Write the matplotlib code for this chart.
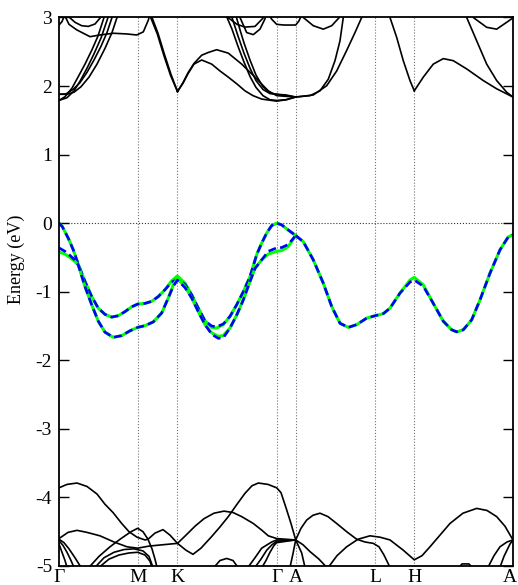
import matplotlib.pyplot as plt
import matplotlib.transforms as mtransforms
import numpy as np

plt.rcParams['font.family'] = ['Liberation Serif', 'DejaVu Serif']
plt.rcParams['axes.unicode_minus'] = False

# high-symmetry points along the k path
kpoints = [0.0, 0.787, 1.185, 2.177, 2.367, 3.162, 3.553, 4.54]
klabels = ['Γ', 'M', 'K', 'Γ', 'A', 'L', 'H', 'A']

# top valence bands, Γ-M-K-Γ-A (green = solid, blue = dashed)
k_v1 = [0.0, 0.033, 0.093, 0.143, 0.193, 0.26, 0.327, 0.393, 0.46, 0.527, 0.593, 0.66, 0.727,
        0.787, 0.86, 0.927, 0.993, 1.06, 1.127, 1.185, 1.26, 1.327, 1.393, 1.46, 1.527, 1.577,
        1.643, 1.71, 1.777, 1.843, 1.91, 1.977, 2.027, 2.077, 2.127, 2.177, 2.227, 2.293, 2.367]
v1_green = [0.0, -0.05, -0.22, -0.39, -0.60, -0.85, -1.07, -1.24, -1.33, -1.37, -1.35, -1.29, -1.22,
            -1.18, -1.17, -1.14, -1.07, -0.97, -0.84, -0.77, -0.875, -1.045, -1.24, -1.425, -1.52, -1.53,
            -1.48, -1.36, -1.19, -1.0, -0.78, -0.46, -0.29, -0.145, -0.035, 0.0, -0.025, -0.10, -0.18]
v1_blue = [0.0, -0.05, -0.22, -0.39, -0.60, -0.85, -1.07, -1.24, -1.33, -1.37, -1.35, -1.29, -1.22,
           -1.18, -1.17, -1.14, -1.07, -0.97, -0.86, -0.82, -0.89, -1.045, -1.24, -1.425, -1.50, -1.51,
           -1.47, -1.36, -1.19, -1.0, -0.78, -0.46, -0.29, -0.145, -0.035, 0.0, -0.025, -0.10, -0.18]

k_v2 = [0.0, 0.06, 0.11, 0.16, 0.193, 0.26, 0.327, 0.393, 0.46, 0.543, 0.627, 0.71, 0.787, 0.86,
        0.943, 1.027, 1.093, 1.143, 1.185, 1.26, 1.327, 1.393, 1.46, 1.527, 1.593, 1.643, 1.71,
        1.777, 1.843, 1.91, 1.96, 2.027, 2.093, 2.177, 2.227, 2.293, 2.367]
v2_green = [-0.42, -0.45, -0.50, -0.56, -0.61, -0.925, -1.19, -1.43, -1.59, -1.665, -1.64, -1.57, -1.52,
            -1.495, -1.44, -1.31, -1.09, -0.90, -0.81, -0.925, -1.09, -1.29, -1.48, -1.60, -1.65, -1.64,
            -1.53, -1.34, -1.12, -0.85, -0.66, -0.535, -0.45, -0.41, -0.40, -0.34, -0.18]
v2_blue = [-0.36, -0.41, -0.47, -0.54, -0.61, -0.925, -1.19, -1.43, -1.59, -1.665, -1.64, -1.57, -1.52,
           -1.495, -1.44, -1.31, -1.09, -0.92, -0.83, -0.94, -1.09, -1.29, -1.48, -1.62, -1.68, -1.67,
           -1.53, -1.34, -1.12, -0.85, -0.66, -0.535, -0.41, -0.36, -0.355, -0.31, -0.18]

# degenerate top valence band, A-L-H-A
k_vd = [2.367, 2.443, 2.543, 2.643, 2.727, 2.81, 2.893, 2.977, 3.077, 3.162, 3.243, 3.31, 3.41,
        3.51, 3.553, 3.643, 3.743, 3.843, 3.927, 3.977, 4.043, 4.127, 4.21, 4.31, 4.41, 4.493, 4.54]
vd_green = [-0.18, -0.27, -0.535, -0.875, -1.215, -1.46, -1.52, -1.48, -1.385, -1.35, -1.32, -1.24, -1.02,
            -0.83, -0.79, -0.90, -1.17, -1.43, -1.555, -1.585, -1.555, -1.41, -1.12, -0.73, -0.39, -0.20, -0.17]
vd_blue = [-0.18, -0.27, -0.535, -0.875, -1.215, -1.46, -1.52, -1.48, -1.385, -1.35, -1.32, -1.24, -1.02,
           -0.86, -0.83, -0.92, -1.17, -1.43, -1.555, -1.585, -1.555, -1.41, -1.12, -0.73, -0.39, -0.20, -0.17]

# conduction bands (k, E)
cb_hook = [(0.0, 2.89), (0.03, 2.94), (0.06, 3.05)]
cb_u_shallow = [(0.09, 3.02), (0.16, 2.93), (0.227, 2.88), (0.293, 2.87), (0.36, 2.905), (0.427, 3.02)]
cb_u_flat = [(0.05, 3.05), (0.10, 2.9), (0.177, 2.82), (0.31, 2.72), (0.41, 2.745), (0.543, 2.77),
             (0.677, 2.76), (0.777, 2.745), (0.843, 2.79), (0.893, 2.96), (0.91, 3.05)]
cb_r1 = [(0.0, 1.79), (0.06, 1.845), (0.13, 1.97), (0.19, 2.13), (0.26, 2.32), (0.33, 2.53),
         (0.39, 2.73), (0.45, 3.0), (0.47, 3.08)]
cb_r2 = [(0.0, 1.79), (0.08, 1.83), (0.15, 1.93), (0.21, 2.07), (0.28, 2.26), (0.35, 2.47),
         (0.42, 2.70), (0.49, 3.0), (0.51, 3.08)]
cb_r3 = [(0.0, 1.88), (0.07, 1.885), (0.14, 1.95), (0.21, 2.05), (0.28, 2.20), (0.35, 2.38),
         (0.42, 2.58), (0.48, 2.78), (0.53, 3.0), (0.55, 3.08)]
cb_r4 = [(0.0, 1.88), (0.08, 1.88), (0.15, 1.91), (0.22, 1.99), (0.30, 2.13), (0.38, 2.32),
         (0.46, 2.55), (0.53, 2.78), (0.58, 3.0), (0.60, 3.08)]
cb_mk1 = [(0.905, 3.06), (0.917, 3.0), (0.983, 2.76), (1.05, 2.44), (1.117, 2.15), (1.185, 1.92)]
cb_mk2 = [(0.915, 3.06), (0.93, 3.0), (0.99, 2.77), (1.055, 2.46), (1.12, 2.17), (1.185, 1.92)]
cb_hump1 = [(1.185, 1.92), (1.24, 2.04), (1.29, 2.18), (1.35, 2.32), (1.427, 2.38), (1.527, 2.32),
            (1.61, 2.22), (1.693, 2.13), (1.78, 2.03), (1.86, 1.93), (1.94, 1.86), (2.027, 1.81),
            (2.177, 1.78), (2.27, 1.80), (2.367, 1.84)]
cb_hump2 = [(1.185, 1.92), (1.24, 2.05), (1.293, 2.20), (1.35, 2.33), (1.427, 2.45), (1.493, 2.49),
            (1.577, 2.53), (1.693, 2.48), (1.827, 2.32), (1.96, 2.13), (2.093, 1.93), (2.177, 1.86),
            (2.27, 1.85), (2.367, 1.84)]
cb_l1 = [(1.76, 3.08), (1.775, 3.0), (1.81, 2.82), (1.85, 2.63), (1.91, 2.38), (1.97, 2.16),
         (2.04, 1.99), (2.11, 1.90), (2.177, 1.88), (2.27, 1.87), (2.367, 1.84)]
cb_l2 = [(1.71, 3.08), (1.73, 3.0), (1.79, 2.73), (1.85, 2.48), (1.91, 2.26), (1.97, 2.08),
         (2.04, 1.95), (2.11, 1.89), (2.177, 1.88), (2.27, 1.86), (2.367, 1.84)]
cb_l3 = [(1.66, 3.08), (1.68, 3.0), (1.73, 2.83), (1.79, 2.58), (1.85, 2.35), (1.91, 2.14),
         (1.97, 1.98), (2.04, 1.86), (2.11, 1.80), (2.177, 1.79), (2.27, 1.80), (2.367, 1.84)]
cb_u1_g2 = [(1.67, 3.05), (1.69, 3.0), (1.78, 2.90), (1.86, 2.86), (1.96, 2.87), (2.04, 2.99), (2.05, 3.05)]
cb_u2_g2 = [(1.79, 3.05), (1.81, 3.0), (1.877, 2.78), (1.943, 2.75), (2.01, 2.83), (2.06, 2.98), (2.07, 3.05)]
cb_flat_ga = [(2.09, 3.05), (2.13, 2.97), (2.177, 2.90), (2.25, 2.89), (2.367, 2.89), (2.40, 2.95), (2.43, 3.05)]
cb_al1 = [(2.367, 1.84), (2.51, 1.86), (2.61, 1.93), (2.693, 2.10), (2.76, 2.37), (2.81, 2.66),
          (2.843, 3.0), (2.85, 3.06)]
cb_al2 = [(2.367, 1.84), (2.543, 1.87), (2.677, 2.005), (2.777, 2.22), (2.877, 2.52), (2.96, 2.78),
          (3.027, 3.0), (3.04, 3.06)]
cb_u_al = [(2.43, 3.05), (2.443, 3.0), (2.543, 2.88), (2.643, 2.83), (2.727, 2.88), (2.803, 3.0), (2.815, 3.05)]
cb_h_steep = [(3.30, 3.05), (3.31, 3.0), (3.377, 2.71), (3.443, 2.37), (3.51, 2.08), (3.553, 1.93)]
cb_h_hump = [(3.553, 1.93), (3.643, 2.13), (3.743, 2.32), (3.843, 2.40), (3.943, 2.37), (4.077, 2.25),
             (4.243, 2.08), (4.377, 1.96), (4.54, 1.84)]
cb_a_steep = [(4.07, 3.05), (4.077, 3.0), (4.177, 2.66), (4.277, 2.32), (4.377, 2.08), (4.477, 1.91), (4.54, 1.84)]
cb_u_ha = [(4.13, 3.05), (4.143, 3.0), (4.277, 2.857), (4.377, 2.83), (4.477, 2.93), (4.537, 2.99)]

# lower valence bands (k, E)
db_a = [(0.0, -3.86), (0.08, -3.81), (0.18, -3.79), (0.28, -3.84), (0.38, -3.95), (0.46, -4.10),
        (0.54, -4.22), (0.627, -4.38), (0.70, -4.50), (0.78, -4.58), (0.86, -4.62), (0.89, -4.61),
        (0.96, -4.52), (1.04, -4.47), (1.11, -4.55), (1.185, -4.67), (1.27, -4.77), (1.34, -4.83),
        (1.42, -4.74), (1.527, -4.57), (1.61, -4.43), (1.693, -4.28), (1.78, -4.10), (1.86, -3.94),
        (1.93, -3.83), (1.993, -3.79), (2.09, -3.81), (2.177, -3.86), (2.22, -3.93), (2.27, -4.15),
        (2.32, -4.38), (2.367, -4.62), (2.427, -4.81), (2.46, -5.02)]
db_b = [(0.0, -4.60), (0.09, -4.51), (0.18, -4.48), (0.28, -4.51), (0.41, -4.56), (0.55, -4.65),
        (0.68, -4.72), (0.787, -4.74), (0.90, -4.71), (1.04, -4.69), (1.185, -4.67), (1.27, -4.55),
        (1.36, -4.42), (1.45, -4.31), (1.55, -4.23), (1.65, -4.20), (1.74, -4.22), (1.827, -4.28),
        (1.943, -4.38), (2.03, -4.48), (2.093, -4.56), (2.177, -4.60), (2.27, -4.61), (2.367, -4.62)]
db_c = [(0.30, -5.02), (0.40, -4.86), (0.51, -4.72), (0.62, -4.60), (0.72, -4.50), (0.787, -4.45),
        (0.84, -4.50), (0.89, -4.61), (0.93, -4.75), (0.96, -4.90), (0.98, -5.02)]
db_m1 = [(0.36, -5.02), (0.45, -4.88), (0.55, -4.80), (0.65, -4.76), (0.75, -4.75), (0.84, -4.78),
         (0.90, -4.86), (0.94, -5.02)]
db_m2 = [(0.40, -5.02), (0.50, -4.90), (0.60, -4.84), (0.70, -4.81), (0.787, -4.80), (0.86, -4.84),
         (0.91, -4.93), (0.93, -5.02)]
db_g1 = [(0.0, -4.61), (0.05, -4.66), (0.10, -4.75), (0.16, -4.88), (0.22, -5.02)]
db_g2 = [(0.0, -4.63), (0.04, -4.70), (0.08, -4.80), (0.12, -4.92), (0.15, -5.02)]
db_g3 = [(0.0, -4.68), (0.03, -4.80), (0.06, -4.92), (0.08, -5.02)]
db_bump = [(1.55, -5.02), (1.61, -4.92), (1.677, -4.89), (1.74, -4.92), (1.79, -5.02)]
db_n1 = [(1.89, -5.02), (1.96, -4.88), (2.027, -4.74), (2.127, -4.65), (2.177, -4.62), (2.27, -4.62), (2.367, -4.62)]
db_n2 = [(1.96, -5.02), (2.02, -4.90), (2.077, -4.77), (2.13, -4.69), (2.177, -4.64), (2.27, -4.63), (2.367, -4.62)]
db_n3 = [(2.03, -5.02), (2.07, -4.92), (2.11, -4.80), (2.15, -4.70), (2.177, -4.66), (2.27, -4.64), (2.367, -4.62)]
db_a_rise = [(2.31, -5.02), (2.34, -4.82), (2.367, -4.62), (2.42, -4.45), (2.477, -4.33), (2.54, -4.26),
             (2.61, -4.23), (2.69, -4.28), (2.777, -4.38), (2.877, -4.50), (2.977, -4.61), (3.06, -4.65),
             (3.143, -4.67), (3.20, -4.72), (3.25, -4.84), (3.31, -5.02)]
db_a_fall = [(2.367, -4.62), (2.44, -4.69), (2.51, -4.79), (2.60, -4.90), (2.677, -5.02)]
db_lh = [(2.693, -5.02), (2.78, -4.85), (2.877, -4.72), (2.99, -4.61), (3.11, -4.56), (3.21, -4.58),
         (3.31, -4.62), (3.443, -4.77), (3.553, -4.91), (3.63, -4.85), (3.71, -4.72), (3.81, -4.55),
         (3.91, -4.38), (4.04, -4.23), (4.177, -4.16), (4.28, -4.19), (4.377, -4.28), (4.46, -4.42),
         (4.54, -4.62)]
db_small = [(4.0, -5.02), (4.03, -4.97), (4.10, -4.97), (4.13, -5.02)]
db_e1 = [(4.29, -5.02), (4.35, -4.85), (4.41, -4.72), (4.48, -4.65), (4.54, -4.62)]
db_e2 = [(4.41, -5.02), (4.45, -4.86), (4.48, -4.77), (4.51, -4.68), (4.54, -4.62)]

black_bands = [cb_hook, cb_u_shallow, cb_u_flat, cb_r1, cb_r2, cb_r3, cb_r4, cb_mk1, cb_mk2,
               cb_hump1, cb_hump2, cb_l1, cb_l2, cb_l3, cb_u1_g2, cb_u2_g2, cb_flat_ga, cb_al1,
               cb_al2, cb_u_al, cb_h_steep, cb_h_hump, cb_a_steep, cb_u_ha,
               db_a, db_b, db_c, db_m1, db_m2, db_g1, db_g2, db_g3, db_bump, db_n1, db_n2, db_n3,
               db_a_rise, db_a_fall, db_lh, db_small, db_e1, db_e2]

fig = plt.figure(figsize=(5.18, 5.85), dpi=100)
ax = fig.add_axes([0.1139, 0.0325, 0.8764, 0.9376])

for band in black_bands:
    kk, ee = zip(*band)
    ax.plot(kk, ee, color='black', lw=1.2)

for kk, g, b in [(k_v1, v1_green, v1_blue), (k_v2, v2_green, v2_blue), (k_vd, vd_green, vd_blue)]:
    ax.plot(kk, g, color='#00ff00', lw=2.2)
    ax.plot(kk, b, color='#0000ff', lw=1.9, dashes=(3, 1.6))

for kp in kpoints[1:-1]:
    ax.axvline(kp, color='0.45', lw=0.8, ls=':', zorder=0)
ax.axhline(0, color='0.2', lw=0.8, ls=':', zorder=0)

ax.set_xlim(kpoints[0], kpoints[-1])
ax.set_ylim(-5, 3)
ax.set_xticks(kpoints)
ax.set_xticklabels(klabels)
ax.set_yticks(np.arange(-5, 4, 1))
ax.tick_params(axis='x', length=0, pad=2, labelsize=14)
ax.tick_params(axis='y', direction='in', length=7, width=1, right=True, labelsize=14, pad=5)
for s in ax.spines.values():
    s.set_linewidth(1.3)
ax.set_ylabel('Energy (eV)', fontsize=13)
ax.yaxis.set_label_coords(-0.075, 0.56)

# last "A" sits flush with the right edge of the figure
last = ax.get_xticklabels()[-1]
last.set_horizontalalignment('right')
last.set_transform(last.get_transform() + mtransforms.ScaledTranslation(4 / 100, 0, fig.dpi_scale_trans))

fig.savefig('out.png', dpi=100)
